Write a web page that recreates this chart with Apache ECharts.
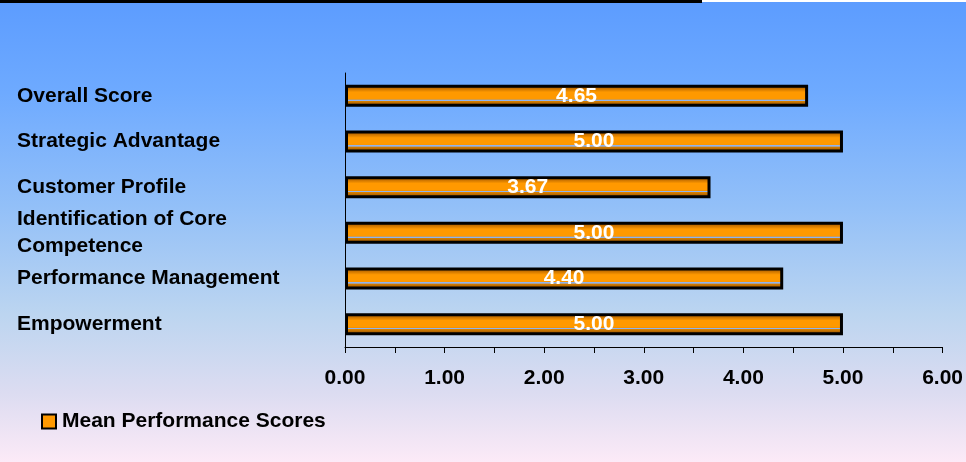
<!DOCTYPE html>
<html>
<head>
<meta charset="utf-8">
<script src="https://cdn.jsdelivr.net/npm/echarts@6/dist/echarts.min.js"></script>
<style>
  html, body { margin: 0; padding: 0; }
  #chart { width: 966px; height: 462px; }
</style>
</head>
<body>
<div id="chart"></div>
<script>
// Category names, top to bottom
const categories = [
  'Overall Score',
  'Strategic Advantage',
  'Customer Profile',
  'Identification of Core\nCompetence',
  'Performance Management',
  'Empowerment'
];
// Mean score per category
const meanScores = [4.65, 5.00, 3.67, 5.00, 4.40, 5.00];
const seriesName = 'Mean Performance Scores';
const xTicks = { min: 0, max: 6, step: 1 };

const FONT = '"Liberation Sans", Arial, sans-serif';

// Tubular orange fill with a thin pale highlight near the lower edge
const barFill = new echarts.graphic.LinearGradient(0, 0, 0, 1, [
  { offset: 0.00, color: '#7a4000' },
  { offset: 0.15, color: '#c06c00' },
  { offset: 0.33, color: '#ff9900' },
  { offset: 0.63, color: '#ff9900' },
  { offset: 0.66, color: '#f09000' },
  { offset: 0.68, color: '#8fb4f0' },
  { offset: 0.72, color: '#8fb4f0' },
  { offset: 0.74, color: '#d88000' },
  { offset: 1.00, color: '#7a4000' }
]);

const chart = echarts.init(document.getElementById('chart'));
chart.setOption({
  animation: false,
  backgroundColor: new echarts.graphic.LinearGradient(0, 0, 0, 1, [
    { offset: 0.00, color: '#5c9cff' },
    { offset: 0.20, color: '#6eaaff' },
    { offset: 0.45, color: '#93c0f8' },
    { offset: 0.68, color: '#bcd5f0' },
    { offset: 0.85, color: '#dcdcf1' },
    { offset: 1.00, color: '#fceaf7' }
  ]),
  graphic: [
    { type: 'rect', left: 0, top: 0, shape: { width: 702, height: 3 }, style: { fill: '#000' } },
    { type: 'rect', left: 702, top: 0, shape: { width: 264, height: 2 }, style: { fill: '#fff' } }
  ],
  grid: { left: 345, right: 23, top: 73, bottom: 115 },
  legend: {
    left: 36, top: 406,
    itemWidth: 14, itemHeight: 14, itemGap: 6,
    icon: 'rect',
    data: [{ name: seriesName, itemStyle: { color: '#ff9900', borderColor: '#000', borderWidth: 2 } }],
    textStyle: { fontFamily: FONT, fontWeight: 'bold', fontSize: 21, color: '#000', padding: [0, 0, 0, 1] }
  },
  xAxis: {
    type: 'value',
    min: xTicks.min, max: xTicks.max, interval: xTicks.step,
    axisLine: { show: true, lineStyle: { color: '#000', width: 1 } },
    axisTick: { show: true, length: 6, lineStyle: { color: '#000' } },
    minorTick: { show: true, splitNumber: 2, length: 6, lineStyle: { color: '#000' } },
    splitLine: { show: false },
    axisLabel: {
      margin: 21,
      fontFamily: FONT, fontWeight: 'bold', fontSize: 21, color: '#000',
      formatter: v => v.toFixed(2)
    }
  },
  yAxis: {
    type: 'category',
    inverse: true,
    data: categories,
    axisLine: { show: true, lineStyle: { color: '#000', width: 1 } },
    axisTick: { show: false },
    axisLabel: {
      align: 'left', margin: 328,
      fontFamily: FONT, fontWeight: 'bold', fontSize: 21, color: '#000',
      lineHeight: 27
    }
  },
  series: [{
    name: seriesName,
    type: 'bar',
    data: meanScores,
    barWidth: 22,
    itemStyle: { color: barFill, borderColor: '#000', borderWidth: 3 },
    label: {
      show: true, position: 'inside',
      fontFamily: FONT, fontWeight: 'bold', fontSize: 21, color: '#fff',
      formatter: p => p.value.toFixed(2)
    }
  }]
});
</script>
</body>
</html>
